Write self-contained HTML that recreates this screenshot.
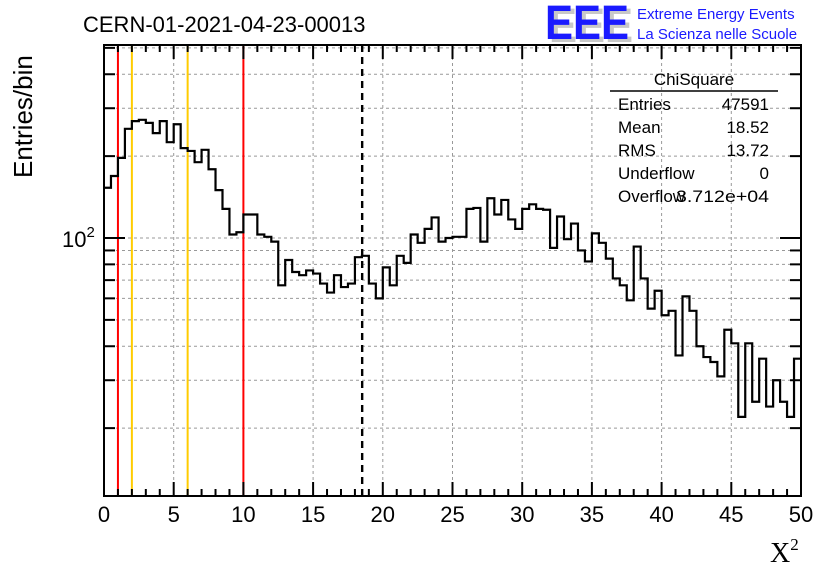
<!DOCTYPE html>
<html><head><meta charset="utf-8"><style>
html,body{margin:0;padding:0;background:#fff;}
svg{display:block;font-family:"Liberation Sans",sans-serif;}
</style></head><body>
<svg id="chart" width="836" height="572" xmlns="http://www.w3.org/2000/svg">
<rect width="836" height="572" fill="#fff"/>
<g id="grid"></g>
<g id="marks"></g>
<path id="hist" fill="none" stroke="#000" stroke-width="2.2"/>
<g id="axes"></g>
<text x="62" y="247" font-size="22">10<tspan font-size="15" dy="-10">2</tspan></text>
<text x="83" y="32" font-size="22">CERN-01-2021-04-23-00013</text>
<g>
<text x="549" y="42" font-size="48" font-weight="bold" fill="#c8c8c8" textLength="84" lengthAdjust="spacingAndGlyphs">EEE</text>
<text x="545" y="39" font-size="48" font-weight="bold" fill="#1a1aff" textLength="84" lengthAdjust="spacingAndGlyphs">EEE</text>
<text x="637" y="19" font-size="15" fill="#1a1aff">Extreme Energy Events</text>
<text x="637" y="39" font-size="15" fill="#1a1aff">La Scienza nelle Scuole</text>
</g>
<text transform="translate(32,178) rotate(-90)" font-size="26">Entries/bin</text>
<text x="770" y="562" font-size="28" font-family="Liberation Serif,serif">X<tspan font-size="17" dy="-12">2</tspan></text>
<g font-size="17">
<text x="694" y="85" text-anchor="middle">ChiSquare</text>
<line x1="610" y1="91" x2="778" y2="91" stroke="#000" stroke-width="1.5"/>
<text x="618" y="110">Entries</text><text x="769" y="110" text-anchor="end">47591</text>
<text x="618" y="133">Mean</text><text x="769" y="133" text-anchor="end">18.52</text>
<text x="618" y="156">RMS</text><text x="769" y="156" text-anchor="end">13.72</text>
<text x="618" y="179">Underflow</text><text x="769" y="179" text-anchor="end">0</text>
<text x="618" y="202">Overflow</text><text x="676" y="202" textLength="93" lengthAdjust="spacingAndGlyphs">3.712e+04</text>
</g>
<script>
const binValues=[153,169,197,252,269,272,265,243,269,225,262,214,209,190,211,179,150,128,103,105,122,122,103,101,97,67,83,75,73,76,74,68,63,73,66,68,85,86,68,60,78,67,86,81,103,96,108,119,97,100,101,101,128,129,97,140,122,138,117,108,128,133,128,127,92,120,99,113,90,82,104,96,84,71,67,59,93,71,55,64,52,54,37,61,54,40,36.5,35,31,46,41,22,41,25,36,24,30,25,22,36];
const xTicks=[0,5,10,15,20,25,30,35,40,45,50];
const markerRed=[1,10];
const markerYellow=[2,6];
const meanValue=[18.52];
const X0=104,X1=801,Y0=496,Y1=45;
const xmin=0,xmax=50;
function xs(v){return X0+(v-xmin)/(xmax-xmin)*(X1-X0);}
function ys(v){return 238-272*Math.log10(v/100);}
const NS="http://www.w3.org/2000/svg";
function mk(parent,tag,attrs){const e=document.createElementNS(NS,tag);for(const k in attrs)e.setAttribute(k,attrs[k]);parent.appendChild(e);return e;}
const grid=document.getElementById('grid');
for(const t of xTicks){if(t===0||t===50)continue;
 const l=mk(grid,'line',{x1:xs(t),x2:xs(t),y1:Y1,y2:Y0,stroke:'#999','stroke-dasharray':'3,3','stroke-width':1});
 
 }
const yGrid=[20,30,40,50,60,70,80,90,100,200,300,400,500];
for(const g of yGrid){const l=mk(grid,'line',{x1:X0,x2:X1,y1:ys(g),y2:ys(g),stroke:'#999','stroke-dasharray':'3,3','stroke-width':1});
 
 }
const marks=document.getElementById('marks');
for(const m of markerRed){const l=mk(marks,'line',{x1:xs(m),x2:xs(m),y1:Y1,y2:Y0,stroke:'#f00','stroke-width':2});
 
 }
for(const m of markerYellow){const l=mk(marks,'line',{x1:xs(m),x2:xs(m),y1:Y1,y2:Y0,stroke:'#ffcc00','stroke-width':2});
 
 }
for(const m of meanValue){const l=mk(marks,'line',{x1:xs(m),x2:xs(m),y1:Y1,y2:Y0,stroke:'#000','stroke-width':2.4,'stroke-dasharray':'7,5'});
 
 }
const bw=(xmax-xmin)/binValues.length;
let d='M'+xs(0)+','+ys(binValues[0]);
binValues.forEach((v,i)=>{d+=' L'+xs(i*bw)+','+ys(v)+' L'+xs((i+1)*bw)+','+ys(v);});
document.getElementById('hist').setAttribute('d',d);
const ax=document.getElementById('axes');
mk(ax,'rect',{x:X0,y:Y1,width:X1-X0,height:Y0-Y1,fill:'none',stroke:'#000','stroke-width':2});
for(let t=0;t<=50;t+=1){const major=t%5===0;const L=major?14:7;
 mk(ax,'line',{x1:xs(t),x2:xs(t),y1:Y0,y2:Y0-L,stroke:'#000','stroke-width':2});
 mk(ax,'line',{x1:xs(t),x2:xs(t),y1:Y1,y2:Y1+L,stroke:'#000','stroke-width':2});}
for(const t of xTicks){const tx=mk(ax,'text',{x:xs(t),y:522,'font-size':22,'text-anchor':'middle'});tx.textContent=t;
 
 }
const yTicks=[20,30,40,50,60,70,80,90,100,200,300,400,500];
for(const t of yTicks){const L=t===100?21:11;
 mk(ax,'line',{x1:X0,x2:X0+L,y1:ys(t),y2:ys(t),stroke:'#000','stroke-width':2});
 mk(ax,'line',{x1:X1,x2:X1-L,y1:ys(t),y2:ys(t),stroke:'#000','stroke-width':2});}
</script>
</svg>
</body></html>
